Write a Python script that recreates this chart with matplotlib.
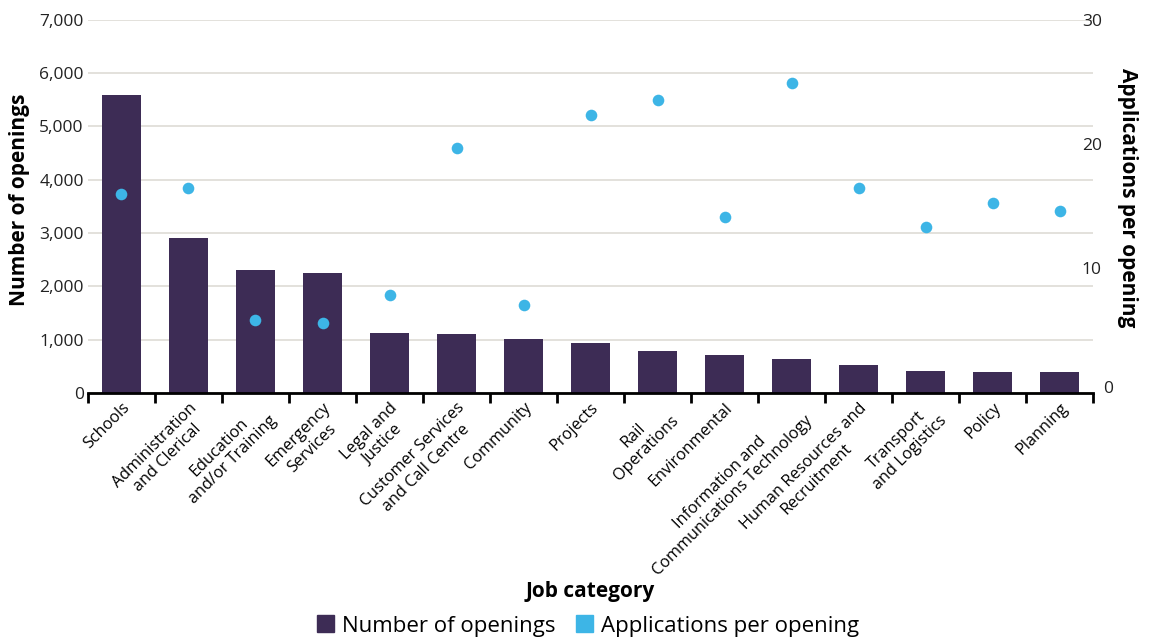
import matplotlib.pyplot as plt
from matplotlib.patches import Patch
import numpy as np

plt.rcParams['font.family'] = ['Open Sans', 'DejaVu Sans']

categories = ["Schools", "Administration\nand Clerical", "Education\nand/or Training",
              "Emergency\nServices", "Legal and\nJustice", "Customer Services\nand Call Centre",
              "Community", "Projects", "Rail\nOperations", "Environmental",
              "Information and\nCommunications Technology", "Human Resources and\nRecruitment",
              "Transport\nand Logistics", "Policy", "Planning"]
openings = [5580, 2910, 2310, 2250, 1130, 1110, 1020, 940, 790, 720, 645, 530, 420, 400, 400]
apps_per_opening = [16.0, 16.5, 5.9, 5.6, 7.9, 19.7, 7.1, 22.3, 23.5, 14.1, 24.9, 16.5, 13.3, 15.3, 14.6]
right_ticks = [0, 10, 20, 30]

bar_color = '#3d2c55'
dot_color = '#3db5e6'

fig = plt.figure(figsize=(11.51, 6.41), dpi=100)
ax = fig.add_axes([88/1151, 1 - 393/641, 1005/1151, 373.5/641])
x = np.arange(len(categories))

ax.bar(x, openings, width=0.57, color=bar_color, zorder=2)
ax.set_xlim(-0.5, len(categories) - 0.5)
ax.set_ylim(0, 7000)
ax.set_yticks(range(0, 7001, 1000))
ax.set_yticklabels([f"{v:,}" for v in range(0, 7001, 1000)])
ax.grid(axis='y', color='#dedbd6', linewidth=1.2, zorder=0)
ax.set_axisbelow(True)

for s in ['left', 'right', 'top']:
    ax.spines[s].set_visible(False)
ax.spines['bottom'].set_linewidth(2)
ax.spines['bottom'].set_zorder(5)

ax.set_xticks(x)
ax.set_xticklabels(categories, rotation=45, ha='right', va='top',
                   rotation_mode='anchor', multialignment='center', fontsize=11.7)
ax.set_xticks(np.arange(-0.5, len(categories)), minor=True)
ax.tick_params(axis='x', which='major', length=0, pad=5)
ax.tick_params(axis='x', which='minor', length=7, width=2, color='black')
ax.tick_params(axis='y', length=0, labelsize=12.5, pad=3, colors='#222222')

ax.set_ylabel("Number of openings", fontsize=15, fontweight='bold')
ax.yaxis.set_label_coords(-0.058, 0.517)

ax2 = ax.twinx()
ax2.scatter(x, apps_per_opening, s=70, color=dot_color, zorder=3, linewidths=0)
ax2.set_ylim(0, 30)
ax2.set_yticks(right_ticks)
# the zero label sits right of the axis end in the original
ax2.set_yticklabels([''] + [str(t) for t in right_ticks[1:]])
ax2.annotate(str(right_ticks[0]), xy=(1, 0), xycoords='axes fraction',
             xytext=(7, 3), textcoords='offset points', ha='left', va='center',
             fontsize=12.5, color='#222222')
ax2.tick_params(axis='y', length=0, labelsize=12.5, pad=-8, colors='#222222')
for s in ['left', 'right', 'top', 'bottom']:
    ax2.spines[s].set_visible(False)
ax2.set_ylabel("Applications per opening", fontsize=15, fontweight='bold',
               rotation=-90, va='bottom')
ax2.yaxis.set_label_coords(1.024, 0.523)

fig.text(590/1151, 1 - 592/641, "Job category", fontsize=15, fontweight='bold',
         ha='center', va='center')

handles = [Patch(color=bar_color, label="Number of openings"),
           Patch(color=dot_color, label="Applications per opening")]
fig.legend(handles=handles, loc='center', bbox_to_anchor=(588/1151, 1 - 626/641),
           ncol=2, frameon=False, fontsize=16, handlelength=0.8, handleheight=0.8,
           handletextpad=0.35, columnspacing=0.9)

fig.savefig("out.png", dpi=100)
